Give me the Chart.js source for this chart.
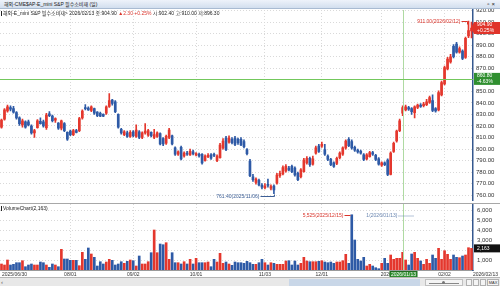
<!DOCTYPE html>
<html lang="ko">
<head>
<meta charset="utf-8">
<title>해외-CME$AP-E_mini S&P 필수소비재 (일)</title>
<script src="https://cdn.jsdelivr.net/npm/chart.js@4.4.1/dist/chart.umd.min.js"></script>
<style>
  html, body { margin: 0; padding: 0; background: #fff; }
  #wrap { position: relative; width: 500px; height: 286px; overflow: hidden;
          font-family: "Liberation Sans", "Noto Sans CJK KR", sans-serif; color: #222; }
  #wrap canvas { position: absolute; left: 0; }
  #priceChart { top: 0; }
  #volumeChart { top: 196px; }
  .titlebar { position: absolute; left: 0; top: 0; width: 500px; height: 8px;
              background: linear-gradient(#eef3fa, #d2dfee); border-bottom: 1px solid #a9bbd2;
              font-size: 5px; line-height: 8px; z-index: 2; }
  .titlebar .t { position: absolute; left: 4px; }
  .titlebar .btns { position: absolute; right: 3px; letter-spacing: 2px; font-size: 6px; }
  .info { position: absolute; left: 1px; top: 10px; font-size: 5px; line-height: 6px;
          white-space: nowrap; z-index: 2; }
  .mark { display: inline-block; width: 1px; height: 5px; background: #222; margin-right: 1px; vertical-align: -1px; }
  .up { color: #d9342b; }
  .sep { position: absolute; left: 0; top: 203px; width: 500px; height: 1px; background: #a8a8a8; z-index: 2; }
  .vlabel { position: absolute; left: 1px; top: 205px; font-size: 5px; line-height: 6px; z-index: 2; }
  .scroll { position: absolute; left: 0; top: 277px; width: 500px; height: 9px; background: #e8e8e8;
            border-top: 1px solid #b5b5b5; z-index: 2; }
  .scroll div { position: absolute; }
  .sbtn { left: 1px; top: 1px; width: 6px; height: 6px; font-size: 6px; line-height: 6px; color: #555; }
  .track { left: 289px; top: 1px; width: 131px; height: 7px; background: #c9d7e8; }
  .zoom { left: 425px; top: 1px; width: 38px; height: 7px; background: #f4f4f4; border: 1px solid #c0c0c0; box-sizing: border-box; }
  .zoom i { position: absolute; left: 3px; right: 3px; top: 3px; height: 1px; background: #888; }
  .zoom b { position: absolute; left: 16px; top: 1px; width: 3px; height: 3px; border-radius: 50%; background: #777; }
  .btn { top: 1px; width: 6px; height: 7px; background: #f4f4f4; border: 1px solid #b0b0b0; box-sizing: border-box; }
  .max { left: 487px; top: 1px; width: 12px; height: 7px; background: #f4f4f4; border: 1px solid #b0b0b0;
         box-sizing: border-box; font-size: 4px; line-height: 6px; text-align: center; color: #333; }
</style>
</head>
<body>
<div id="wrap">
  <canvas id="priceChart" width="500" height="207"></canvas>
  <canvas id="volumeChart" width="500" height="90"></canvas>
  <div class="titlebar"><span class="t">해외-CME$AP-E_mini S&amp;P 필수소비재 (일)</span><span class="btns">▫×</span></div>
  <div class="info" id="info"></div>
  <div class="sep"></div>
  <div class="vlabel" id="vlabel"></div>
  <div class="scroll">
    <div class="sbtn">‹</div>
    <div class="track"></div>
    <div class="zoom"><i></i><b></b></div>
    <div class="btn" style="left:466px"></div>
    <div class="btn" style="left:473px"></div>
    <div class="btn" style="left:480px"></div>
    <div class="max">MAX</div>
  </div>
</div>
<script>
// 일봉 데이터 (2025/06/30 ~ 2026/02/13)
const holidays = ['2025-07-04', '2025-09-01', '2025-11-27', '2025-12-24', '2025-12-25', '2025-12-26', '2026-01-01'];

const opens = [
  819, 826, 833, 836, 835, 831.5, 827, 821, 823.5, 823.5,
  820, 814, 818.5, 824, 823.5, 818.5, 830.5, 828.5, 825, 822.5,
  818, 822, 814.5, 815.5, 812.5, 816, 816, 827, 836, 835.5,
  833.5, 835, 832, 831, 830, 831, 837, 842.5, 841, 830,
  817, 812.5, 814, 811, 815, 811, 815, 810, 814, 812,
  814.5, 810, 811, 813.5, 809, 805, 810, 811.5, 801, 795.5,
  801.5, 794, 796.5, 795, 797.5, 795, 795.5, 795.5, 790, 793.5,
  795, 795.5, 790, 792.5, 801, 809.5, 806, 808.5, 809.5, 808.5,
  808.5, 806.5, 799.5, 789.5, 776, 771, 773, 768.5, 766.5, 769.5,
  766, 768, 770.5, 777, 778.5, 781, 783.5, 785, 783.5, 779,
  776, 780.5, 788, 792, 787, 796.5, 802.5, 802.5, 799.5, 794,
  791, 788, 787.5, 792.5, 795.5, 801, 808.5, 806.5, 801.5, 799,
  798, 795, 791.5, 793.5, 797, 794.5, 791.5, 786, 788, 790.5,
  778, 798, 807, 816, 831, 834, 836, 835, 831.5, 836,
  838, 837.5, 838.5, 840.5, 842, 835, 834, 847, 856.5, 869.5,
  875.5, 889, 891, 884, 885, 879.5, 898, 902.4
];
const highs = [
  826, 835, 838, 837.5, 837, 832.5, 828, 826, 824.5, 825,
  821, 817, 825.5, 827, 825, 831, 832.5, 829.5, 827, 823,
  825, 823, 815, 816.5, 817, 817, 827.5, 834, 838.5, 836.5,
  837.5, 835.5, 832.5, 832, 830.5, 837.5, 848, 843, 842, 830.5,
  818, 816, 815.5, 816, 816, 821, 816, 815, 822, 817,
  815, 817, 815, 814, 810, 812, 818, 812, 802, 798.5,
  802.5, 797.5, 798, 800, 799, 797, 796.5, 796, 795, 796,
  796, 796.5, 795, 805, 809, 811, 811.5, 810, 811, 809.5,
  810, 808, 800.5, 791, 778, 775, 774, 770, 770, 774,
  769, 769, 779, 781, 785.5, 786.5, 785, 786, 784.5, 780,
  783, 792, 793.5, 793, 794, 802.5, 804, 806, 804, 795,
  792, 789, 793, 797.5, 802, 808, 810, 808, 802.5, 800,
  799, 796, 796, 798, 798, 795.5, 792.5, 789, 789, 791.5,
  797.5, 806, 816.5, 826, 837.5, 838, 837, 836, 837.5, 839,
  839.5, 840.5, 843, 846, 847, 836, 850.5, 859, 872, 879.5,
  882, 890.5, 892.5, 888.5, 886, 897, 911, 910
];
const lows = [
  818, 825, 832, 833, 831, 826, 820.5, 819, 818, 820,
  813, 810, 818, 821.5, 819, 817, 828, 823.5, 823, 817,
  816.5, 815, 807.5, 811.5, 811.5, 814, 815, 826, 834, 833.5,
  832.5, 830, 828, 828, 828, 830, 836, 838, 831.5, 818,
  813, 811.5, 810, 810, 810.5, 810, 809, 809, 813, 811,
  810.5, 809, 810, 803.5, 803, 804, 809, 803.5, 794.5, 794.5,
  790.5, 793, 794.5, 794.5, 795, 794, 793, 787, 789.5, 792.5,
  791, 793.5, 789, 792, 800, 798.5, 805, 804.5, 803, 804,
  803, 801, 795, 776, 772, 769.5, 768, 765.5, 765.5, 767,
  764.5, 761.4, 769.5, 775.5, 777.5, 780, 781, 779.5, 776.5, 772.5,
  775, 780, 787, 785, 786, 795.5, 797, 801.5, 794.5, 790,
  785.5, 784, 786.5, 791.5, 794.5, 800, 802, 800, 798, 796.5,
  795.5, 790, 790.5, 793, 794.5, 790, 786, 785, 785.5, 777,
  777.5, 797, 806, 815, 829, 833, 833.5, 830, 827, 835,
  836, 836.5, 837.5, 839.5, 832.5, 832, 833, 846, 855.5, 868.5,
  874.5, 879, 883, 883, 877.5, 878.5, 896.5, 896.3
];
const closes = [
  825, 834, 836.5, 834.5, 832, 827, 822, 824.5, 819, 821,
  814, 816, 824.5, 822, 820, 829.5, 829, 824.5, 826.5, 818,
  824.5, 816, 808.5, 812.5, 816, 814.5, 826.5, 833, 835, 834,
  836.5, 831, 829, 828.5, 828.5, 836.5, 842, 839.5, 832.5, 819,
  814, 815, 811, 814.5, 811.5, 816.5, 810, 814, 815.5, 816,
  811.5, 812.5, 814, 804.5, 804.5, 811, 816.5, 804.5, 795.5, 797.5,
  791.5, 796.5, 795.5, 798, 796, 796, 794, 788, 794, 794.5,
  792, 794.5, 794, 803.5, 807, 799.5, 809.5, 805.5, 804, 805.5,
  803.5, 802, 796, 777, 773.5, 774, 769, 767, 768, 768.5,
  767.5, 764.5, 777.5, 779, 784, 785, 782, 780.5, 777.5, 773.5,
  782, 790.5, 792, 786.5, 791.5, 801, 798, 804, 795.5, 791,
  786.5, 785, 792, 796.5, 801, 807, 803, 801, 799, 797.5,
  796.5, 791, 795, 797, 795.5, 791, 787, 788, 786.5, 778,
  796.5, 805, 815.5, 824.5, 836, 836.5, 834.5, 832.5, 836.5, 838,
  837, 839, 841, 844.5, 833.5, 833, 849, 857.5, 870.5, 878,
  880, 880, 884, 887, 878.5, 896, 902.6, 904.9
];
const volumes = [
  600, 500, 1000, 500, 570, 730, 730, 930, 330, 500,
  600, 500, 500, 800, 730, 500, 270, 600, 500, 330,
  2070, 1100, 1100, 970, 970, 970, 430, 1770, 1070, 2200,
  1600, 1270, 400, 830, 600, 800, 1070, 970, 500, 600,
  830, 670, 870, 1000, 930, 400, 1400, 600, 600, 830,
  1730, 4000, 1730, 2600, 2530, 2730, 1070, 1730, 730, 730,
  600, 830, 600, 1070, 600, 1170, 730, 730, 730, 800,
  330, 1070, 800, 1670, 670, 800, 600, 470, 800, 730,
  730, 670, 870, 730, 570, 570, 730, 1070, 730, 500,
  730, 670, 570, 570, 570, 900, 930, 500, 900, 500,
  670, 1270, 900, 830, 830, 830, 870, 930, 800, 730,
  800, 670, 800, 800, 930, 1570, 670, 5525, 3000, 1070,
  900, 1270, 400, 570, 400, 230, 130, 670, 1170, 670,
  1500, 1070, 1170, 1170, 1770, 1000, 500, 1600, 1770, 1170,
  900, 570, 1070, 670, 1500, 1170, 2170, 1070, 1930, 1570,
  1070, 1500, 1270, 1230, 1400, 1500, 2230, 2163
];

const priceTicks = [760, 770, 780, 790, 800, 810, 820, 830, 840, 850, 860, 870, 880, 890, 900, 910, 920];
const volumeTicks = [1000, 2000, 3000, 4000, 5000, 6000];
const xTickDates = ['2025-06-30', '2025-08-01', '2025-09-02', '2025-10-01', '2025-11-03', '2025-12-01', '2026-01-02', '2026-02-02', '2026-02-13'];
const xTickText = ['2025/06/30', '08/01', '09/02', '10/01', '11/03', '12/01', '2026/01/02', '02/02', '2026/02/13'];

// 십자선 위치
const crossDate = '2026-01-13';
const crossPrice = 860.8;

// 거래일 목록 (주말/휴장일 제외)
const dates = [];
(function () {
    const d = new Date(Date.UTC(2025, 5, 30));
    const end = Date.UTC(2026, 1, 13);
    while (d.getTime() <= end) {
        const s = d.toISOString().slice(0, 10);
        const wd = d.getUTCDay();
        if (wd !== 0 && wd !== 6 && !holidays.includes(s)) dates.push(s);
        d.setUTCDate(d.getUTCDate() + 1);
    }
})();

const UP = '#e4372d';
const DOWN = '#2e5aa6';
const CROSS_V = 'rgb(175, 218, 162)';
const CROSS_H = 'rgb(115, 200, 92)';
const FONT = '"Liberation Sans", "Noto Sans CJK KR", sans-serif';

const colors = closes.map((c, i) => (c >= opens[i] ? UP : DOWN));
const bodies = opens.map((o, i) => [o, closes[i]]);
const wicks = lows.map((l, i) => [l, highs[i]]);
const crossIdx = dates.indexOf(crossDate);
const xTickIdx = xTickDates.map(d => dates.indexOf(d));
const n = closes.length;
const prevClose = closes[n - 2];
const fmtDate = s => s.replace(/-/g, '/');

// 상단 정보줄
const chg = closes[n - 1] - prevClose;
document.getElementById('info').innerHTML =
    '<span class="mark"></span>해외-E_mini S&amp;P 필수소비재&gt; ' + fmtDate(dates[n - 1]) +
    ' 종:' + closes[n - 1].toFixed(2) +
    ' <span class="up">▲' + chg.toFixed(2) + ' +' + (chg / prevClose * 100).toFixed(2) + '%</span>' +
    ' 시:' + opens[n - 1].toFixed(2) + ' 고:' + highs[n - 1].toFixed(2) + ' 저:' + lows[n - 1].toFixed(2);
document.getElementById('vlabel').innerHTML =
    '<span class="mark"></span>VolumeChart(' + volumes[n - 1].toLocaleString('en-US') + ')';

function line(ctx, x1, y1, x2, y2) {
    ctx.beginPath();
    ctx.moveTo(x1, y1);
    ctx.lineTo(x2, y2);
    ctx.stroke();
}

// 십자선: 1px 사각형으로 채워서 선명하게
function vRule(ctx, x, y1, y2, color) {
    ctx.fillStyle = color;
    ctx.fillRect(Math.round(x), y1, 1, y2 - y1);
}
function hRule(ctx, x1, x2, y, color) {
    ctx.fillStyle = color;
    ctx.fillRect(x1, Math.round(y), x2 - x1, 1);
}

// 오른쪽 축 가격 태그
function tag(ctx, x0, yMid, h, bg, lines, arrow) {
    ctx.save();
    ctx.fillStyle = bg;
    ctx.beginPath();
    ctx.moveTo(x0, yMid - h / 2);
    ctx.lineTo(500, yMid - h / 2);
    ctx.lineTo(500, yMid + h / 2);
    ctx.lineTo(x0, yMid + h / 2);
    if (arrow) ctx.lineTo(x0 - 3, yMid);
    ctx.closePath();
    ctx.fill();
    ctx.fillStyle = '#fff';
    ctx.font = '5px ' + FONT;
    ctx.textAlign = 'left';
    ctx.textBaseline = 'middle';
    const step = h / lines.length;
    lines.forEach((t, i) => ctx.fillText(t, x0 + 3, yMid - h / 2 + step * (i + 0.5)));
    ctx.restore();
}

const rightAxisWidth = s => { s.width = 27; };

const priceOverlay = {
    id: 'priceOverlay',
    afterDatasetsDraw(chart) {
        const { ctx, chartArea: a, scales: { x, y } } = chart;
        ctx.save();
        vRule(ctx, x.getPixelForValue(crossIdx), a.top, a.bottom, CROSS_V);
        hRule(ctx, a.left, a.right, y.getPixelForValue(crossPrice), CROSS_H);

        ctx.lineWidth = 1;
        ctx.font = '5px ' + FONT;
        ctx.textBaseline = 'middle';
        ctx.textAlign = 'right';

        // 최고가
        const hi = highs.indexOf(Math.max(...highs));
        const hx = Math.round(x.getPixelForValue(hi)) + 0.5;
        const hy = Math.round(y.getPixelForValue(highs[hi])) + 0.5;
        ctx.fillStyle = ctx.strokeStyle = '#d9342b';
        ctx.fillText(highs[hi].toFixed(2) + '(' + fmtDate(dates[hi]) + ')', hx - 9, hy);
        line(ctx, hx - 8, hy, hx - 2, hy);
        line(ctx, hx - 2, hy, hx - 2, hy + 3);

        // 최저가
        const lo = lows.indexOf(Math.min(...lows));
        const lx = Math.round(x.getPixelForValue(lo)) + 0.5;
        const ly = Math.round(y.getPixelForValue(lows[lo])) + 0.5;
        ctx.fillStyle = ctx.strokeStyle = '#3d5f96';
        ctx.fillText(lows[lo].toFixed(2) + '(' + fmtDate(dates[lo]) + ')', lx - 15, ly + 2);
        line(ctx, lx - 14, ly + 2, lx, ly + 2);
        line(ctx, lx, ly + 2, lx, ly);
        ctx.restore();
    },
    afterDraw(chart) {
        const { ctx, chartArea: a, scales: { y } } = chart;
        const last = closes[n - 1];
        tag(ctx, a.right + 1, y.getPixelForValue(last), 12, '#e0342a',
            [last.toFixed(2), '+' + ((last - prevClose) / prevClose * 100).toFixed(2) + '%'], true);
        tag(ctx, a.right + 1, y.getPixelForValue(crossPrice), 12, '#2f8f2f',
            [crossPrice.toFixed(2), ((crossPrice - prevClose) / prevClose * 100).toFixed(2) + '%'], false);
    }
};

const volumeOverlay = {
    id: 'volumeOverlay',
    afterDatasetsDraw(chart) {
        const { ctx, chartArea: a, scales: { x, y } } = chart;
        ctx.save();
        const cxRaw = x.getPixelForValue(crossIdx);
        const cx = Math.round(cxRaw) + 0.5;
        vRule(ctx, cxRaw, a.top, a.bottom, CROSS_V);

        ctx.lineWidth = 1;
        ctx.font = '5px ' + FONT;
        ctx.textBaseline = 'middle';
        ctx.textAlign = 'right';

        // 최대 거래량
        const vi = volumes.indexOf(Math.max(...volumes));
        const vx = Math.round(x.getPixelForValue(vi)) + 0.5;
        const vy = Math.round(y.getPixelForValue(volumes[vi])) + 0.5;
        ctx.fillStyle = ctx.strokeStyle = '#d9342b';
        ctx.fillText(volumes[vi].toLocaleString('en-US') + '(' + fmtDate(dates[vi]) + ')', vx - 9, vy);
        line(ctx, vx - 8, vy, vx - 2, vy);

        ctx.fillStyle = ctx.strokeStyle = '#6a86b0';
        ctx.fillText('1(' + fmtDate(crossDate) + ')', cx - 6, a.top + 12);
        ctx.setLineDash([1, 1]);
        line(ctx, cx - 5, a.top + 12, cx + 11, a.top + 12);
        ctx.setLineDash([]);

        // 날짜 라벨
        ctx.fillStyle = '#333';
        const ty = a.bottom + 4.5;
        xTickIdx.forEach((idx, k) => {
            const px = x.getPixelForValue(idx);
            if (k === 0) {
                ctx.textAlign = 'left';
                ctx.fillText(xTickText[k], a.left + 2, ty);
            } else if (k === xTickIdx.length - 1) {
                ctx.textAlign = 'right';
                ctx.fillText(xTickText[k], 498, ty);
            } else if (xTickText[k].length > 5) {
                ctx.textAlign = 'left';
                ctx.fillText(xTickText[k], px - 1, ty);
            } else {
                ctx.textAlign = 'center';
                ctx.fillText(xTickText[k], px, ty);
            }
        });

        // 십자선 날짜
        ctx.fillStyle = '#2f8f2f';
        ctx.fillRect(cx - 13.5, a.bottom + 1, 27, 7);
        ctx.strokeStyle = '#1f6a1f';
        ctx.strokeRect(cx - 13.5, a.bottom + 1.5, 27, 6.5);
        ctx.fillStyle = '#fff';
        ctx.textAlign = 'center';
        ctx.fillText(fmtDate(crossDate), cx, a.bottom + 4.8);
        ctx.restore();
    },
    afterDraw(chart) {
        const { ctx, chartArea: a, scales: { y } } = chart;
        tag(ctx, a.right + 1, y.getPixelForValue(volumes[n - 1]), 8, '#111',
            [volumes[n - 1].toLocaleString('en-US')], false);
    }
};

const xGrid = {
    offset: true,
    grid: { offset: false, color: '#d9d9d9', drawTicks: false },
    border: { display: false, dash: [1, 2] },
    ticks: { display: false },
    afterBuildTicks: s => { s.ticks = xTickIdx.slice(1, -1).map(v => ({ value: v })); },
    afterFit: s => { s.height = 0; }
};

new Chart(document.getElementById('priceChart'), {
    type: 'bar',
    data: {
        labels: dates,
        datasets: [
            { data: bodies, backgroundColor: colors, barThickness: 2, minBarLength: 1, grouped: false, borderWidth: 0 },
            { data: wicks, backgroundColor: colors, barThickness: 1, grouped: false, borderWidth: 0 }
        ]
    },
    options: {
        responsive: false,
        animation: false,
        layout: { padding: { top: 10, bottom: 4, left: 0, right: 0 } },
        plugins: { legend: { display: false }, tooltip: { enabled: false } },
        scales: {
            x: xGrid,
            y: {
                position: 'right',
                min: 755.5,
                max: 920.5,
                afterBuildTicks: s => { s.ticks = priceTicks.map(v => ({ value: v })); },
                afterFit: rightAxisWidth,
                grid: { color: '#d9d9d9', drawTicks: false },
                border: { display: true, color: '#35588f', width: 1.5, dash: [1, 2] },
                ticks: {
                    padding: 3,
                    color: '#333',
                    font: { family: FONT, size: 6 },
                    callback: v => Number(v).toFixed(2)
                }
            }
        }
    },
    plugins: [priceOverlay]
});

new Chart(document.getElementById('volumeChart'), {
    type: 'bar',
    data: {
        labels: dates,
        datasets: [
            { data: volumes, backgroundColor: colors, barThickness: 2, borderWidth: 0 }
        ]
    },
    options: {
        responsive: false,
        animation: false,
        layout: { padding: { top: 8, bottom: 16, left: 0, right: 0 } },
        plugins: { legend: { display: false }, tooltip: { enabled: false } },
        scales: {
            x: Object.assign({}, xGrid, { border: { display: true, color: '#9a9a9a', dash: [1, 2] } }),
            y: {
                position: 'right',
                min: 0,
                max: 6600,
                afterBuildTicks: s => { s.ticks = volumeTicks.map(v => ({ value: v })); },
                afterFit: rightAxisWidth,
                grid: { color: '#d9d9d9', drawTicks: false },
                border: { display: true, color: '#35588f', width: 1.5, dash: [1, 2] },
                ticks: {
                    padding: 4,
                    color: '#333',
                    font: { family: FONT, size: 6 },
                    callback: v => Number(v).toLocaleString('en-US')
                }
            }
        }
    },
    plugins: [volumeOverlay]
});
</script>
</body>
</html>
